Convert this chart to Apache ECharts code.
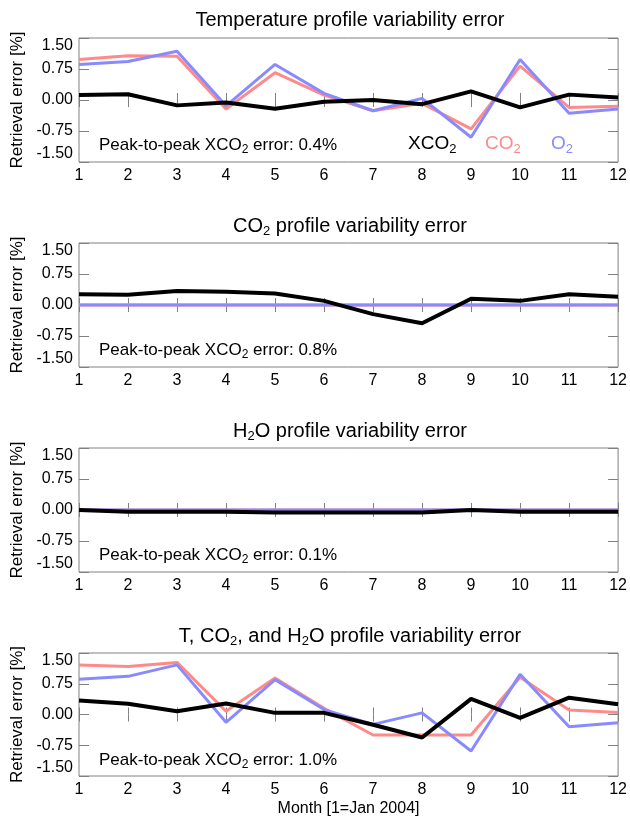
<!DOCTYPE html>
<html>
<head>
<meta charset="utf-8">
<script src="https://cdn.jsdelivr.net/npm/echarts@6/dist/echarts.min.js"></script>
<style>
  html, body { margin: 0; padding: 0; background: #fff; }
  #chart { width: 630px; height: 818px; }
</style>
</head>
<body>
<div id="chart"></div>
<script>
  // months on the x axis
  const months = ['1', '2', '3', '4', '5', '6', '7', '8', '9', '10', '11', '12']

  // temperature profile variability error
  const tempCO2 = [0.98, 1.07, 1.06, -0.22, 0.66, 0.12, -0.26, -0.08, -0.70, 0.82, -0.18, -0.15]
  const tempO2 = [0.86, 0.93, 1.18, -0.14, 0.86, 0.16, -0.26, 0.04, -0.90, 0.98, -0.32, -0.22]
  const tempXCO2 = [0.12, 0.14, -0.13, -0.06, -0.21, -0.04, 0.00, -0.10, 0.21, -0.18, 0.13, 0.06]

  // CO2 profile variability error
  const co2CO2 = [0, 0, 0, 0, 0, 0, 0, 0, 0, 0, 0, 0]
  const co2O2 = [0, 0, 0, 0, 0, 0, 0, 0, 0, 0, 0, 0]
  const co2XCO2 = [0.26, 0.25, 0.34, 0.32, 0.28, 0.10, -0.22, -0.44, 0.15, 0.10, 0.26, 0.20]

  // H2O profile variability error
  const h2oCO2 = [0, 0, 0, 0, 0, 0, 0, 0, 0, 0, 0, 0]
  const h2oO2 = [0, 0, 0, 0, 0, 0, 0, 0, 0, 0, 0, 0]
  const h2oXCO2 = [0.00, -0.04, -0.04, -0.04, -0.06, -0.06, -0.06, -0.06, 0.00, -0.04, -0.04, -0.04]

  // all three together
  const allCO2 = [1.21, 1.17, 1.27, 0.08, 0.89, 0.15, -0.50, -0.50, -0.50, 0.91, 0.11, 0.05]
  const allO2 = [0.86, 0.93, 1.21, -0.19, 0.85, 0.12, -0.24, 0.04, -0.89, 0.98, -0.30, -0.20]
  const allXCO2 = [0.34, 0.26, 0.08, 0.27, 0.04, 0.04, -0.25, -0.56, 0.38, -0.08, 0.41, 0.25]

  const panelTitles = [
    'Temperature profile variability error',
    'CO{s|2} profile variability error',
    'H{s|2}O profile variability error',
    'T, CO{s|2}, and H{s|2}O profile variability error'
  ]
  const peakToPeak = ['0.4', '0.8', '0.1', '1.0']
  const yMin = -1.5
  const yMax = 1.5
  const yStep = 0.75

  const panels = [
    [tempCO2, tempO2, tempXCO2],
    [co2CO2, co2O2, co2XCO2],
    [h2oCO2, h2oO2, h2oXCO2],
    [allCO2, allO2, allXCO2]
  ]

  const FONT = 'Liberation Sans, Arial, sans-serif'
  const PINK = '#ff8a8a'
  const BLUE = '#8a8aff'
  const FRAME = '#808080'
  const plotLeft = 79
  const plotRight = 10
  const plotTop = 38
  const plotHeight = 124
  const step = 205

  const subStyle = { fontSize: 12, padding: [9, 0, 0, 0], fontFamily: FONT }

  const grids = []
  const xAxes = []
  const yAxes = []
  const series = []
  const titles = []
  const graphics = []

  panels.forEach((lines, i) => {
    const top = plotTop + i * step
    grids.push({
      left: plotLeft, right: plotRight, top: top, height: plotHeight,
      show: true, borderColor: FRAME, borderWidth: 1
    })
    // bottom axis with labels, top axis only for ticks
    xAxes.push({
      type: 'category', gridIndex: i, data: months, boundaryGap: false, position: 'bottom',
      axisLine: { show: false },
      axisTick: { inside: true, length: 7, lineStyle: { color: FRAME } },
      axisLabel: { color: '#000', fontSize: 16, fontFamily: FONT, margin: 6 },
      name: i === 3 ? 'Month [1=Jan 2004]' : '',
      nameLocation: 'middle', nameGap: 25,
      nameTextStyle: { color: '#000', fontSize: 16, fontFamily: FONT }
    })
    xAxes.push({
      type: 'category', gridIndex: i, data: months, boundaryGap: false, position: 'top',
      axisLine: { show: false },
      axisTick: { inside: true, length: 7, lineStyle: { color: FRAME } },
      axisLabel: { show: false }
    })
    yAxes.push({
      type: 'value', gridIndex: i, min: yMin, max: yMax, interval: yStep, position: 'left',
      splitLine: { show: false },
      axisLine: { show: false },
      axisTick: { show: true, inside: true, length: 10, lineStyle: { color: FRAME } },
      axisLabel: {
        color: '#000', fontSize: 16, fontFamily: FONT, margin: 6,
        formatter: v => v.toFixed(2),
        verticalAlignMaxLabel: 'top', verticalAlignMinLabel: 'bottom'
      },
      name: 'Retrieval error [%]', nameLocation: 'middle', nameGap: 50,
      nameTextStyle: { color: '#000', fontSize: 17, fontFamily: FONT }
    })
    yAxes.push({
      type: 'value', gridIndex: i, min: yMin, max: yMax, interval: yStep, position: 'right',
      splitLine: { show: false },
      axisLine: { show: false },
      axisTick: { show: true, inside: true, length: 10, lineStyle: { color: FRAME } },
      axisLabel: { show: false }
    })

    const colors = [PINK, BLUE, '#000']
    const widths = [3, 3, 4]
    const names = ['CO2', 'O2', 'XCO2']
    lines.forEach((data, k) => {
      series.push({
        name: names[k], type: 'line', xAxisIndex: i * 2, yAxisIndex: i * 2,
        data: data, symbol: 'none', silent: true,
        lineStyle: { color: colors[k], width: widths[k] }
      })
    })

    titles.push({
      text: panelTitles[i], left: 350, top: top - 28, textAlign: 'center', padding: 0,
      textStyle: {
        color: '#000', fontSize: 20, fontWeight: 'normal', fontFamily: FONT,
        rich: { s: { fontSize: 13, padding: [10, 0, 0, 0], fontFamily: FONT } }
      }
    })

    graphics.push({
      type: 'text', x: 99, y: top + 107,
      style: {
        text: 'Peak-to-peak XCO{s|2} error: ' + peakToPeak[i] + '%',
        fill: '#000', fontSize: 17, fontFamily: FONT, verticalAlign: 'middle',
        rich: { s: subStyle }
      }
    })
  })

  // legend of the first panel
  const legendItems = [
    { text: 'XCO{s|2}', x: 408, color: '#000' },
    { text: 'CO{s|2}', x: 485, color: PINK },
    { text: 'O{s|2}', x: 551, color: BLUE }
  ]
  legendItems.forEach(item => {
    graphics.push({
      type: 'text', x: item.x, y: 144,
      style: {
        text: item.text, fill: item.color, fontSize: 19, fontFamily: FONT, verticalAlign: 'middle',
        rich: { s: { fontSize: 13, padding: [10, 0, 0, 0], fontFamily: FONT, fill: item.color, color: item.color } }
      }
    })
  })

  const chart = echarts.init(document.getElementById('chart'))
  chart.setOption({
    animation: false,
    backgroundColor: '#fff',
    title: titles,
    grid: grids,
    xAxis: xAxes,
    yAxis: yAxes,
    series: series,
    graphic: graphics
  })
</script>
</body>
</html>
